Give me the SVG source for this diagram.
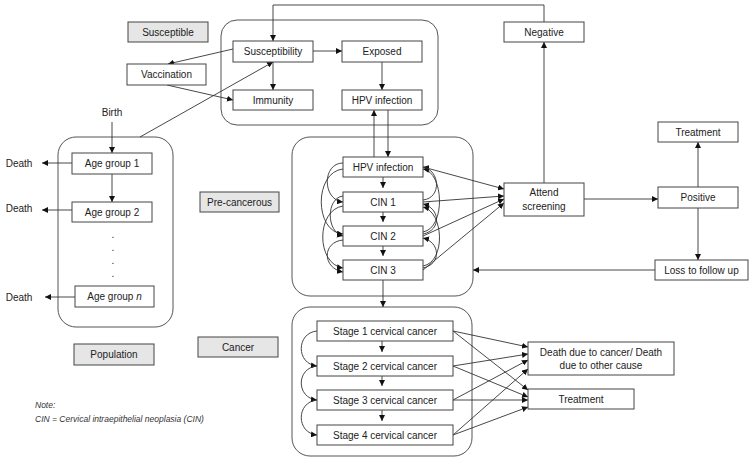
<svg xmlns="http://www.w3.org/2000/svg" width="750" height="461" viewBox="0 0 750 461">
<defs>
<style>
text{font-family:"Liberation Sans",Arial,sans-serif;font-size:10px;fill:#222;text-anchor:middle}
.b{fill:#fff;stroke:#444;stroke-width:1}
.g{fill:#e6e6e6;stroke:#444;stroke-width:1}
.c{fill:none;stroke:#555;stroke-width:1}
.l{fill:none;stroke:#333;stroke-width:0.9}
.a{marker-end:url(#ah)}
.note{font-style:italic;font-size:8.5px;text-anchor:start;fill:#333}
</style>
<marker id="ah" viewBox="0 0 10 10" refX="10" refY="5" markerWidth="6" markerHeight="6" markerUnits="userSpaceOnUse" orient="auto"><path d="M0,0L10,5L0,10z" fill="#111"/></marker>
</defs>
<rect width="750" height="461" fill="#fff"/>

<g id="containers">
<rect id="c-top" class="c" x="221" y="20" width="217" height="105" rx="16"/>
<rect id="c-pop" class="c" x="58" y="137" width="115" height="190" rx="18"/>
<rect id="c-pre" class="c" x="292" y="137" width="181" height="159" rx="18"/>
<rect id="c-can" class="c" x="292" y="307" width="180" height="149" rx="18"/>
</g>

<g id="labels">
<g id="lbl-susceptible"><rect class="g" x="128" y="22" width="80" height="20"/><text x="168" y="35.5">Susceptible</text></g>
<g id="lbl-pre"><rect class="g" x="200" y="192" width="79" height="20"/><text x="239.5" y="205.5">Pre-cancerous</text></g>
<g id="lbl-cancer"><rect class="g" x="198" y="337" width="80" height="20"/><text x="238" y="350.5">Cancer</text></g>
<g id="lbl-pop"><rect class="g" x="74" y="344" width="80" height="21"/><text x="114" y="358">Population</text></g>
</g>

<g id="connectors">
<path class="l a" d="M544,184V42"/>
<path class="l a" d="M544,22V5H273V41"/>
<path class="l a" d="M233,49L168,64"/>
<path class="l a" d="M167,85L233,100"/>
<path class="l a" d="M140,137L273,62"/>
<path class="l a" d="M313,51H342"/>
<path class="l a" d="M273,62V90"/>
<path class="l a" d="M382,62V90"/>
<path class="l a" d="M374,157V110"/>
<path class="l a" d="M388,110V157"/>
<path class="l a" d="M112,122V153"/>
<path class="l a" d="M112,174V202"/>
<path class="l a" d="M72,163H42"/>
<path class="l a" d="M72,210H42"/>
<path class="l a" d="M75,297H45"/>
<path class="l a" d="M383,177V188"/>
<path class="l a" d="M383,212V222"/>
<path class="l a" d="M383,246V256"/>
<path class="l a" d="M383,280V307"/>
<path class="l a" d="M343,163C322,163 322,200 343,202"/>
<path class="l a" d="M343,169C314,172 314,232 343,234"/>
<path class="l a" d="M343,196C326,198 326,232 343,236"/>
<path class="l a" d="M343,206C316,210 316,264 343,268"/>
<path class="l a" d="M343,240C322,242 322,268 343,272"/>
<path class="l a" d="M423,200C442,198 440,170 423,167"/>
<path class="l a" d="M423,232C446,228 444,172 423,169"/>
<path class="l a" d="M423,234C442,230 440,208 423,204"/>
<path class="l a" d="M423,266C446,262 444,212 423,207"/>
<path class="l a" d="M423,268C442,264 440,242 423,238"/>
<path class="l a" d="M423,167L504,189"/>
<path class="l a" d="M423,202L504,196"/>
<path class="l a" d="M423,236L504,199"/>
<path class="l a" d="M423,270L504,203"/>
<path class="l a" d="M584,199H658"/>
<path class="l a" d="M698,187V142"/>
<path class="l a" d="M698,208V260"/>
<path class="l a" d="M655,270H473"/>
<path class="l a" d="M382,341V352"/>
<path class="l a" d="M382,376V386"/>
<path class="l a" d="M382,410V421"/>
<path class="l a" d="M317,331C296,333 296,364 317,366"/>
<path class="l a" d="M317,366C296,368 296,398 317,400"/>
<path class="l a" d="M317,400C296,402 296,433 317,435"/>
<path class="l a" d="M453,331L528,347"/>
<path class="l a" d="M453,331L528,390"/>
<path class="l a" d="M453,366L528,354"/>
<path class="l a" d="M453,366L528,397"/>
<path class="l a" d="M453,400L528,360"/>
<path class="l a" d="M453,400H528"/>
<path class="l a" d="M453,435L528,369"/>
<path class="l a" d="M453,435L528,407"/>
</g>

<g id="n-susceptibility"><rect class="b" x="233" y="41" width="80" height="21"/><text x="273" y="55">Susceptibility</text></g>
<g id="n-exposed"><rect class="b" x="342" y="41" width="80" height="21"/><text x="382" y="55">Exposed</text></g>
<g id="n-immunity"><rect class="b" x="233" y="90" width="80" height="20"/><text x="273" y="103.5">Immunity</text></g>
<g id="n-hpv-top"><rect class="b" x="342" y="90" width="80" height="20"/><text x="382" y="103.5">HPV infection</text></g>
<g id="n-vaccination"><rect class="b" x="127" y="64" width="79" height="21"/><text x="166.5" y="78">Vaccination</text></g>
<g id="n-negative"><rect class="b" x="504" y="22" width="80" height="20"/><text x="544" y="35.5">Negative</text></g>

<g id="n-birth"><text x="112" y="116">Birth</text></g>
<g id="n-age1"><rect class="b" x="72" y="153" width="80" height="21"/><text x="112" y="167">Age group 1</text></g>
<g id="n-age2"><rect class="b" x="72" y="202" width="80" height="20"/><text x="112" y="215.5">Age group 2</text></g>
<g id="n-dots"><text x="113" y="238">.</text><text x="113" y="251">.</text><text x="113" y="264">.</text><text x="113" y="277">.</text></g>
<g id="n-agen"><rect class="b" x="75" y="286" width="79" height="21"/><text x="114.5" y="300">Age group <tspan font-style="italic">n</tspan></text></g>
<g id="n-death1"><text x="19" y="167">Death</text></g>
<g id="n-death2"><text x="19" y="212">Death</text></g>
<g id="n-death3"><text x="19" y="301">Death</text></g>

<g id="n-hpv"><rect class="b" x="343" y="157" width="80" height="20"/><text x="383" y="170.5">HPV infection</text></g>
<g id="n-cin1"><rect class="b" x="343" y="192" width="80" height="20"/><text x="383" y="205.5">CIN 1</text></g>
<g id="n-cin2"><rect class="b" x="343" y="226" width="80" height="20"/><text x="383" y="239.5">CIN 2</text></g>
<g id="n-cin3"><rect class="b" x="343" y="260" width="80" height="20"/><text x="383" y="273.5">CIN 3</text></g>

<g id="n-attend"><rect class="b" x="504" y="183" width="80" height="33"/><text x="544" y="196">Attend</text><text x="544" y="209.5">screening</text></g>
<g id="n-positive"><rect class="b" x="658" y="187" width="80" height="21"/><text x="698" y="201">Positive</text></g>
<g id="n-treatment1"><rect class="b" x="658" y="122" width="80" height="20"/><text x="698" y="135.5">Treatment</text></g>
<g id="n-loss"><rect class="b" x="655" y="260" width="93" height="20"/><text x="701.5" y="273.5">Loss to follow up</text></g>

<g id="n-stage1"><rect class="b" x="317" y="321" width="136" height="20"/><text x="385" y="334.5">Stage 1 cervical cancer</text></g>
<g id="n-stage2"><rect class="b" x="317" y="356" width="136" height="20"/><text x="385" y="369.5">Stage 2 cervical cancer</text></g>
<g id="n-stage3"><rect class="b" x="317" y="390" width="136" height="20"/><text x="385" y="403.5">Stage 3 cervical cancer</text></g>
<g id="n-stage4"><rect class="b" x="317" y="425" width="136" height="20"/><text x="385" y="438.5">Stage 4 cervical cancer</text></g>

<g id="n-death-cancer"><rect class="b" x="528" y="342" width="146" height="33"/><text x="601" y="355.5">Death due to cancer/ Death</text><text x="601" y="368.5">due to other cause</text></g>
<g id="n-treatment2"><rect class="b" x="528" y="389" width="106" height="20"/><text x="581" y="402.5">Treatment</text></g>

<g id="note"><text class="note" x="35" y="408">Note:</text><text class="note" x="35" y="422">CIN = Cervical intraepithelial neoplasia (CIN)</text></g>
</svg>
